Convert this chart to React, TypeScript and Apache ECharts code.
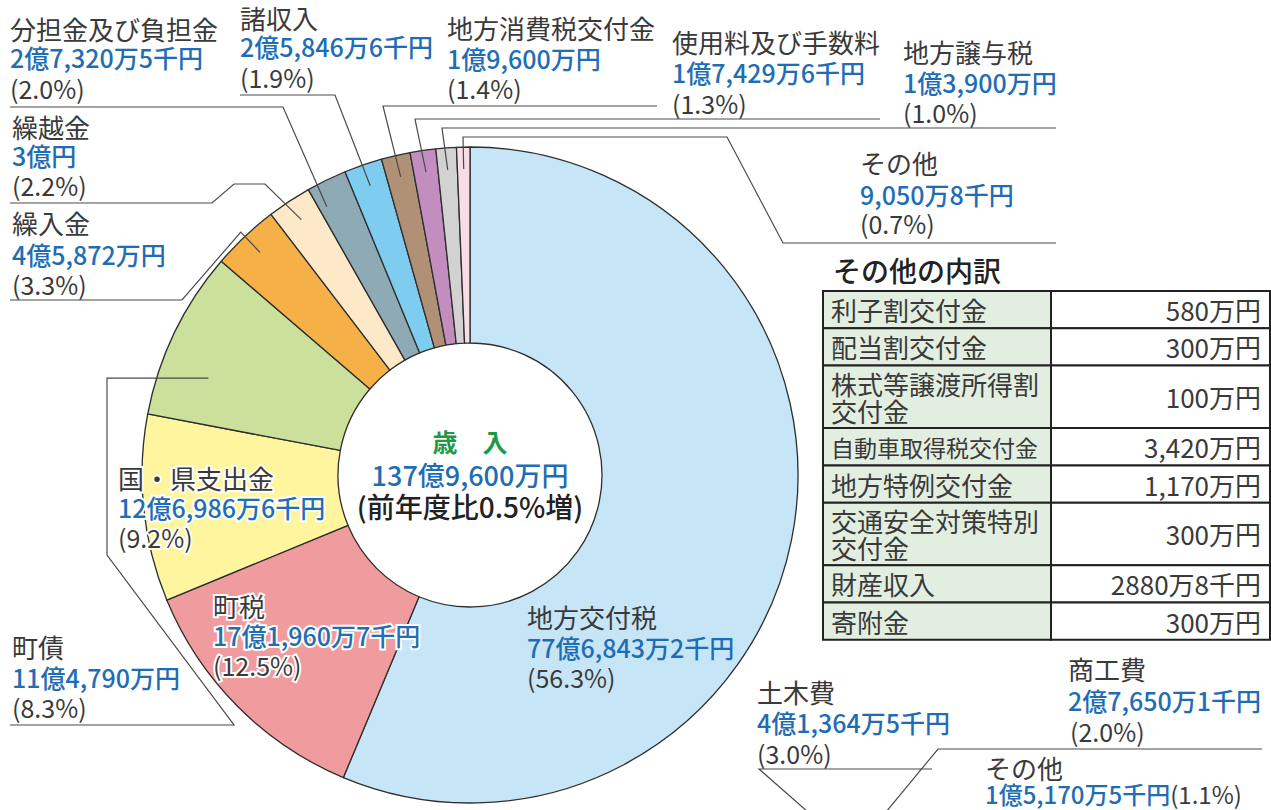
import React, { useEffect, useRef } from "react";
import * as echarts from "echarts";

// ---- data (amounts in 千円) ----
const categories = [
  "地方交付税", "町税", "国・県支出金", "町債", "繰入金", "繰越金",
  "分担金及び負担金", "諸収入", "地方消費税交付金", "使用料及び手数料", "地方譲与税", "その他",
];
const revenueValues = [7768432, 1719607, 1269866, 1147900, 458720, 300000, 273205, 258466, 196000, 174296, 139000, 90508];
const sliceColors = [
  "#C6E5F6", "#F09C9F", "#FFF59F", "#CBE09A", "#F6B048", "#FDE9C8",
  "#8EAAB5", "#7ECDF1", "#B09176", "#C38DC0", "#D2D2D2", "#F8DCE6",
];
const centerTitle = "歳　入";
const changeText = "(前年度比0.5%増)";

const breakdownTitle = "その他の内訳";
const breakdownNames = [
  "利子割交付金", "配当割交付金", "株式等譲渡所得割\n交付金", "自動車取得税交付金",
  "地方特例交付金", "交通安全対策特別\n交付金", "財産収入", "寄附金",
];
const breakdownAmounts = ["580万円", "300万円", "100万円", "3,420万円", "1,170万円", "300万円", "2880万8千円", "300万円"];

const expenditureNames = ["土木費", "商工費", "その他"];
const expenditureValues = [413645, 276501, 151705];
const expenditurePercents = ["3.0", "2.0", "1.1"];

// ---- layout ----
const FONT = "'Noto Sans CJK JP', 'Noto Sans', sans-serif";
const DARK = "#3a3a3a";
const BLUE = "#1f6db4";
const LINE = "#4a4a4a";
const CX = 470, CY = 475, RI = 132, RO = 328;
const NAME_SIZE = 26, AMT_SIZE = 25, PCT_SIZE = 25;

function fmtYen(v: number) {
  const oku = Math.floor(v / 100000);
  const man = Math.floor((v % 100000) / 10);
  const sen = v % 10;
  let s = "";
  if (oku) s += oku + "億";
  if (man) s += man.toLocaleString("en-US") + "万";
  if (sen) s += sen + "千";
  return s + "円";
}

const total = revenueValues.reduce((a, b) => a + b, 0);
const starts: number[] = [];
{
  let c = 0;
  revenueValues.forEach((v) => { starts.push(c); c += v; });
}
function anchor(i: number, t: number, r: number): number[] {
  const f = (starts[i] + revenueValues[i] * t) / total;
  const a = f * 2 * Math.PI;
  return [CX + r * Math.sin(a), CY - r * Math.cos(a)];
}
const pctText = (i: number) => "(" + ((revenueValues[i] / total) * 100).toFixed(1) + "%)";

type LabelSpec = { x: number; ys: number[]; halo?: boolean; leader?: () => number[][] };
const labelSpecs: LabelSpec[] = [
  { x: 527, ys: [616, 647, 677] },
  { x: 213, ys: [605, 635, 665], halo: true },
  { x: 118, ys: [477, 507, 537], halo: true },
  { x: 12, ys: [646, 677, 707], leader: () => { const a = anchor(3, 0.32, 279); return [a, [107, a[1]], [107, 555], [234, 725], [10, 725]]; } },
  { x: 12, ys: [222, 254, 284], leader: () => [anchor(4, 0.5, 306), anchor(4, 0.5, 334), [182, 300], [10, 300]] },
  { x: 12, ys: [126, 155, 185], leader: () => [anchor(5, 0.5, 306), [265, 184], [234, 184], [212, 203], [10, 203]] },
  { x: 10, ys: [28, 57, 88], leader: () => [anchor(6, 0.2, 304), [283, 107], [10, 107]] },
  { x: 240, ys: [17, 46, 77], leader: () => [anchor(7, 0.5, 306), [335, 95], [240, 95]] },
  { x: 447, ys: [27, 58, 88], leader: () => [anchor(8, 0.5, 306), [383, 106], [657, 106]] },
  { x: 672, ys: [41, 72, 103], leader: () => [anchor(9, 0.5, 306), [415, 119], [880, 119]] },
  { x: 903, ys: [51, 82, 112], leader: () => [anchor(10, 0.5, 306), [442, 128], [1056, 128]] },
  { x: 860, ys: [162, 194, 223], leader: () => [anchor(11, 0.5, 306), [463, 137], [727, 137], [783, 243], [1056, 243]] },
];

function T(text: string, x: number, y: number, o: any = {}) {
  const align = o.align ?? "left";
  return {
    type: "text", x, y, z: o.z ?? 100, silent: true,
    style: {
      text, fontFamily: FONT, fontSize: o.size ?? NAME_SIZE, fontWeight: o.weight ?? "normal",
      fill: o.fill ?? DARK, align, verticalAlign: "middle", textAlign: align, textVerticalAlign: "middle",
      stroke: o.stroke, lineWidth: o.lw ?? 0,
    },
  };
}
function L(points: number[][], o: any = {}) {
  return { type: "polyline", z: 100, silent: true, shape: { points }, style: { stroke: o.stroke ?? LINE, lineWidth: o.lw ?? 1.2, fill: null } };
}

function buildGraphics() {
  const g: any[] = [];
  labelSpecs.forEach((s, i) => {
    const texts = [
      { t: categories[i], fill: DARK, size: NAME_SIZE, weight: "normal" },
      { t: fmtYen(revenueValues[i]), fill: BLUE, size: AMT_SIZE, weight: 500 },
      { t: pctText(i), fill: DARK, size: PCT_SIZE, weight: "normal" },
    ];
    texts.forEach((tx, k) => {
      if (s.halo) g.push(T(tx.t, s.x, s.ys[k], { fill: "#fff", stroke: "#fff", lw: 4, size: tx.size, weight: tx.weight, z: 99 }));
      g.push(T(tx.t, s.x, s.ys[k], { fill: tx.fill, size: tx.size, weight: tx.weight }));
    });
    if (s.leader) g.push(L(s.leader()));
  });

  // center
  g.push(T(centerTitle, CX, 441, { align: "center", fill: "#1e9a44", size: 25, weight: "bold" }));
  g.push(T(fmtYen(total), CX, 474, { align: "center", fill: BLUE, size: 27, weight: 500 }));
  g.push(T(changeText, CX, 506, { align: "center", fill: "#222", size: 28, weight: 500 }));

  // breakdown table
  g.push(T(breakdownTitle, 833, 270, { size: 28, fill: "#222", weight: 500 }));
  const tx0 = 823, tx1 = 1051, tx2 = 1270;
  let y = 291;
  breakdownNames.forEach((n, i) => {
    const lines = n.split("\n");
    const h = lines.length > 1 ? 62.5 : 37.3;
    g.push({ type: "rect", z: 90, silent: true, shape: { x: tx0, y, width: tx1 - tx0, height: h }, style: { fill: "#E2EFE0", stroke: "#222", lineWidth: 2 } });
    g.push({ type: "rect", z: 90, silent: true, shape: { x: tx1, y, width: tx2 - tx1, height: h }, style: { fill: "#fff", stroke: "#222", lineWidth: 2 } });
    const longest = Math.max(...lines.map((p) => p.length));
    const size = longest > 8 ? 23 : 26;
    const lh = 27;
    const y0 = y + h / 2 - ((lines.length - 1) * lh) / 2;
    lines.forEach((ln, k) => g.push(T(ln, 831, y0 + k * lh, { size, fill: DARK })));
    g.push(T(breakdownAmounts[i], 1261, y + h / 2, { size: 26, align: "right", fill: DARK }));
    y += h;
  });

  // partial expenditure labels (next chart)
  g.push(T(expenditureNames[0], 757, 691));
  g.push(T(fmtYen(expenditureValues[0]), 757, 722, { fill: BLUE, weight: 500, size: AMT_SIZE }));
  g.push(T("(" + expenditurePercents[0] + "%)", 757, 753, { size: PCT_SIZE }));
  g.push(L([[932, 769], [759, 769], [808, 812]]));
  g.push(T(expenditureNames[1], 1068, 668));
  g.push(T(fmtYen(expenditureValues[1]), 1068, 700, { fill: BLUE, weight: 500, size: AMT_SIZE }));
  g.push(T("(" + expenditurePercents[1] + "%)", 1070, 731, { size: PCT_SIZE }));
  g.push(L([[1262, 749], [938, 749], [886, 812]]));
  g.push(T(expenditureNames[2], 985, 767));
  g.push({
    type: "text", x: 985, y: 793, z: 100, silent: true,
    style: {
      text: "{a|" + fmtYen(expenditureValues[2]) + "}{b|(" + expenditurePercents[2] + "%)}",
      fontFamily: FONT, align: "left", verticalAlign: "middle", textAlign: "left", textVerticalAlign: "middle",
      rich: { a: { fill: BLUE, color: BLUE, fontSize: 24, fontWeight: 500, fontFamily: FONT }, b: { fill: DARK, color: DARK, fontSize: 24, fontFamily: FONT } },
    },
  });
  return g;
}

export default function App() {
  const ref = useRef<HTMLDivElement>(null);
  useEffect(() => {
    if (!ref.current) return;
    const chart = echarts.init(ref.current, undefined, { renderer: "svg" });
    chart.setOption({
      animation: false,
      backgroundColor: "#fff",
      series: [
        {
          type: "pie",
          center: [CX, CY],
          radius: [RI, RO],
          startAngle: 90,
          clockwise: true,
          silent: true,
          emphasis: { disabled: true },
          label: { show: false },
          labelLine: { show: false },
          itemStyle: { borderColor: "#2e2e2e", borderWidth: 1.3 },
          data: categories.map((n, i) => ({ name: n, value: revenueValues[i], itemStyle: { color: sliceColors[i] } })),
        },
      ],
      graphic: { elements: buildGraphics() },
    });
    return () => chart.dispose();
  }, []);
  return <div ref={ref} style={{ position: "fixed", left: 0, top: 0, width: 1271, height: 810, background: "#fff" }} />;
}
